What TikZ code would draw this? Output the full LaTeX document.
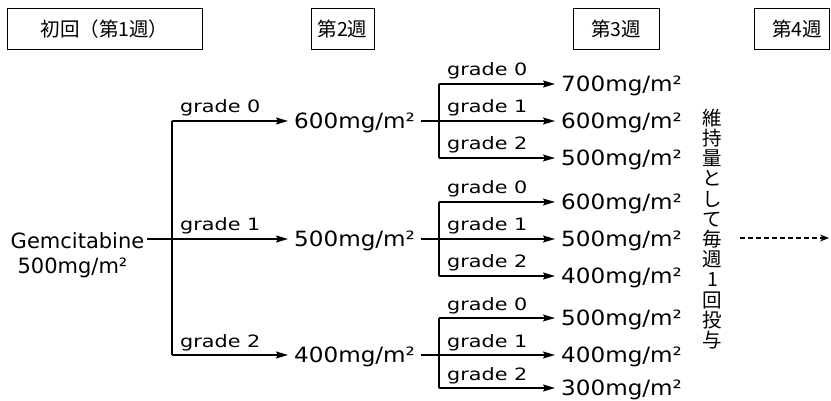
\documentclass[tikz,border=0pt]{standalone}
\usepackage{fontspec}
\setmainfont{DejaVu Sans}
\newfontfamily\dosefont{DejaVu Sans}[FakeStretch=1.1]
\newfontfamily\gradefont{DejaVu Sans}[FakeStretch=1.22]
\newfontfamily\jpfont{Noto Sans CJK JP}
\usetikzlibrary{arrows.meta}
\begin{document}
\begin{tikzpicture}[x=1pt,y=-1pt,
  conn/.style={line width=1.5pt},
  arr/.style={conn,-{Stealth[length=12pt,width=7pt,inset=2pt]}},
  hdr/.style={draw, line width=1pt, minimum height=41pt, inner sep=0pt, font=\jpfont\fontsize{19.5}{21}\selectfont},
  dose/.style={anchor=base west, inner xsep=6pt, inner ysep=2pt, font=\dosefont\fontsize{21}{23}\selectfont},
  gemtext/.style={anchor=base, inner xsep=3pt, inner ysep=2pt, font=\fontsize{21}{23}\selectfont},
  grade/.style={anchor=base west, inner sep=0pt, font=\gradefont\fontsize{17}{19}\selectfont},
]
\useasboundingbox (0,0) rectangle (831,401);
\fill[white] (0,0) rectangle (831,401);

% headers
\node[hdr, minimum width=195pt] (h1) at (104.5,29.5) {初回（第1週）};
\node[hdr, minimum width=63pt] (h2) at (342.5,29.5) {第2週};
\node[hdr, minimum width=86pt] (h3) at (616,29.5) {第3週};
\node[inner sep=0pt, font=\jpfont\fontsize{19.5}{21}\selectfont] (h4) at (797,29.5) {第4週};
\draw[line width=1pt] (754,9) rectangle (829,50);

% start
\node[gemtext] (gem1) at (77.5,249) {Gemcitabine};
\node[gemtext] (gem2) at (72.5,273) {500mg/m²};

\coordinate (j0) at (172,239);
\coordinate (j0t) at (172,121);
\coordinate (j0b) at (172,355);
\draw[conn] (gem1.east |- j0) -- (j0);
\draw[conn] (j0t) -- (j0b);

% level 2
\node[dose] (a1) at (288,128.5) {600mg/m²};
\node[dose] (a2) at (288,246.5) {500mg/m²};
\node[dose] (a3) at (288,362.5) {400mg/m²};
\draw[arr] (j0t) -- (j0t -| a1.west);
\draw[arr] (j0) -- (j0 -| a2.west);
\draw[arr] (j0b) -- (j0b -| a3.west);
\node[grade] (g01) at (180,113) {grade 0};
\node[grade] (g02) at (180,231) {grade 1};
\node[grade] (g03) at (180,347) {grade 2};

% level 3
\foreach \i/\m/\bo/\d/\e/\f in {1/121/37/700/600/500, 2/239/37/600/500/400, 3/355/33/500/400/300} {
  \coordinate (k\i t) at (439,\m-37);
  \coordinate (k\i m) at (439,\m);
  \coordinate (k\i b) at (439,\m+\bo);
  \draw[conn] (k\i t) -- (k\i b);
  \node[dose] (b\i1) at (555,\m-29.5) {\d mg/m²};
  \node[dose] (b\i2) at (555,\m+7.5) {\e mg/m²};
  \node[dose] (b\i3) at (555,\m+\bo+7.5) {\f mg/m²};
  \draw[arr] (k\i t) -- (k\i t -| b\i1.west);
  \draw[arr] (a\i.east |- k\i m) -- (k\i m -| b\i2.west);
  \draw[arr] (k\i b) -- (k\i b -| b\i3.west);
  \node[grade] (c\i1) at (447,\m-45) {grade 0};
  \node[grade] (c\i2) at (447,\m-8) {grade 1};
  \node[grade] (c\i3) at (447,\m+\bo-8) {grade 2};
}

% vertical text
\node[align=center, inner sep=0pt, font=\jpfont\fontsize{19.5}{20.2}\selectfont] (vt) at (712.5,229) {維\\持\\量\\と\\し\\て\\毎\\週\\1\\回\\投\\与};

% dashed arrow
\coordinate (da) at (740,238);
\coordinate (db) at (829,238);
\draw[line width=1.3pt, dash pattern=on 5pt off 3pt, -{Stealth[length=9pt,width=7pt]}] (da) -- (db);
\end{tikzpicture}
\end{document}
